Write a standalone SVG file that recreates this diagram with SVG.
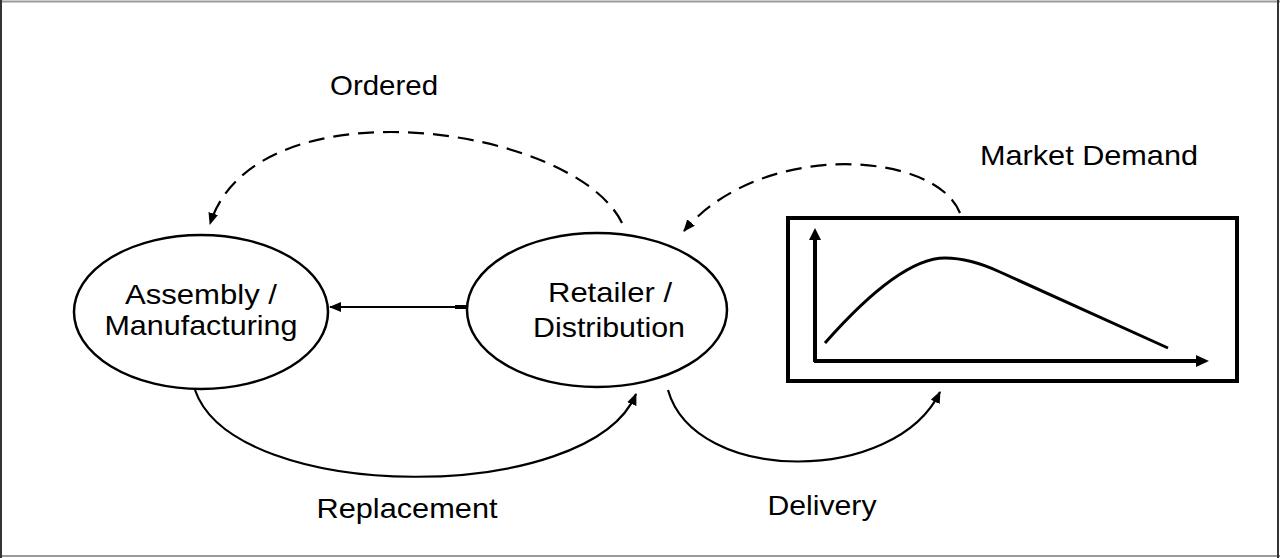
<svg xmlns="http://www.w3.org/2000/svg" width="1280" height="558" viewBox="0 0 1280 558">
<style>
.lbl{font-family:"Liberation Sans",Arial,sans-serif;font-size:28px;fill:#000;text-anchor:middle}
.node{fill:#fff;stroke:#000;stroke-width:2.5}
.conn{fill:none;stroke:#000;stroke-width:2.2}
.dash{stroke-dasharray:16 9}
</style>
<defs>
<marker id="ah" viewBox="0 0 12 10" refX="11" refY="5" markerWidth="12" markerHeight="10" markerUnits="userSpaceOnUse" orient="auto">
<path d="M0,0 L12,5 L0,10 z" fill="#000"/>
</marker>
</defs>
<rect x="0" y="0" width="1280" height="558" fill="#fff"/>
<g id="frame">
<line x1="0" y1="1.5" x2="1280" y2="1.5" stroke="#999" stroke-width="2"/>
<line x1="0" y1="556" x2="1280" y2="556" stroke="#999" stroke-width="2"/>
<line x1="1" y1="0" x2="1" y2="558" stroke="#333" stroke-width="2"/>
<line x1="1278" y1="0" x2="1278" y2="558" stroke="#333" stroke-width="2"/>
</g>
<g id="connectors">
<path class="conn dash" d="M622,223 C575,125 255,80 210,224" marker-end="url(#ah)"/>
<path class="conn dash" d="M960,213 C935,150 760,140 684,231" marker-end="url(#ah)"/>
<path class="conn" d="M467,307 L330,307" marker-end="url(#ah)"/>
<line x1="455" y1="307" x2="468" y2="307" stroke="#000" stroke-width="4"/>
<path class="conn" d="M195,390 C235,505 590,505 636,394" marker-end="url(#ah)"/>
<path class="conn" d="M668,390 C695,485 895,485 940,392" marker-end="url(#ah)"/>
</g>
<g id="assembly">
<ellipse class="node" cx="201" cy="312" rx="127" ry="77"/>
<text class="lbl" x="201" y="304" textLength="152" lengthAdjust="spacingAndGlyphs">Assembly /</text>
<text class="lbl" x="201" y="335" textLength="193" lengthAdjust="spacingAndGlyphs">Manufacturing</text>
</g>
<g id="retailer">
<ellipse class="node" cx="597" cy="310" rx="130" ry="77"/>
<text class="lbl" x="610" y="302" textLength="124" lengthAdjust="spacingAndGlyphs">Retailer /</text>
<text class="lbl" x="609" y="337" textLength="152" lengthAdjust="spacingAndGlyphs">Distribution</text>
</g>
<g id="market">
<rect x="788" y="218" width="449" height="163" fill="#fff" stroke="#000" stroke-width="4"/>
<path d="M815,362 L815,238" stroke="#000" stroke-width="4" fill="none"/>
<path d="M809,240 L815,228 L821,240 z" fill="#000"/>
<path d="M814,361 L1198,361" stroke="#000" stroke-width="4" fill="none"/>
<path d="M1196,355 L1209,361 L1196,367 z" fill="#000"/>
<path d="M825,343 Q900,258 945,258 Q970,258 1000,272 L1168,348" stroke="#000" stroke-width="3" fill="none"/>
<text class="lbl" x="1089" y="165" textLength="218" lengthAdjust="spacingAndGlyphs">Market Demand</text>
</g>
<g id="labels">
<text class="lbl" x="384" y="95" textLength="108" lengthAdjust="spacingAndGlyphs">Ordered</text>
<text class="lbl" x="407" y="518" textLength="181" lengthAdjust="spacingAndGlyphs">Replacement</text>
<text class="lbl" x="822" y="515" textLength="109" lengthAdjust="spacingAndGlyphs">Delivery</text>
</g>
</svg>
